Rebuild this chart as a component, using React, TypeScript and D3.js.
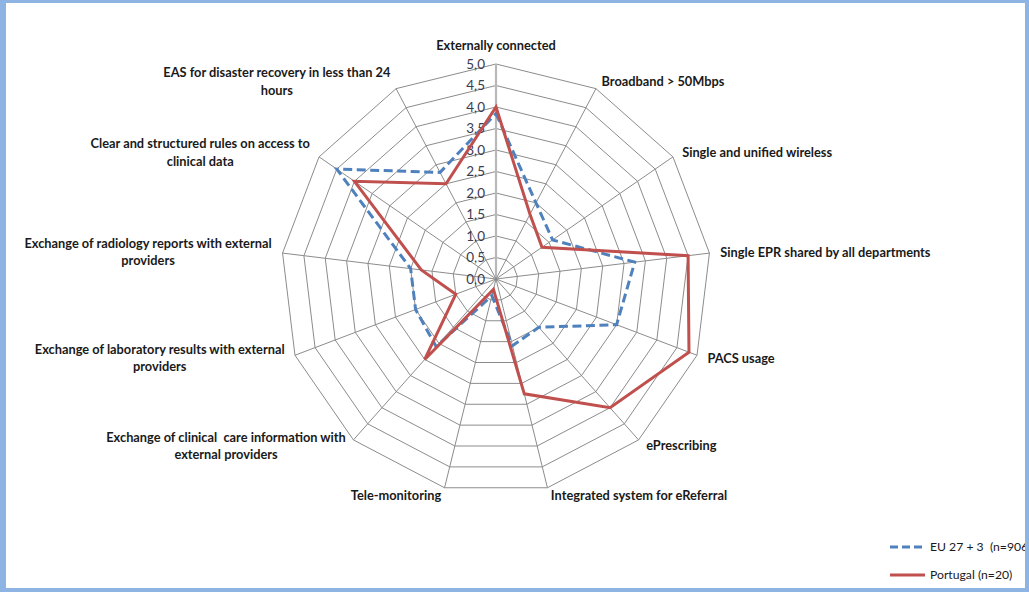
import React, { useEffect, useRef } from "react";
import * as d3 from "d3";

const categories: string[][] = [
  ["Externally connected"],
  ["Broadband > 50Mbps"],
  ["Single and unified wireless"],
  ["Single EPR shared by all departments"],
  ["PACS usage"],
  ["ePrescribing"],
  ["Integrated system for eReferral"],
  ["Tele-monitoring"],
  ["Exchange of clinical  care information with", "external providers"],
  ["Exchange of laboratory results with external", "providers"],
  ["Exchange of radiology reports with external", "providers"],
  ["Clear and structured rules on access to", "clinical data"],
  ["EAS for disaster recovery in less than 24", "hours"],
];

const euValues = [3.85, 2.0, 1.6, 3.25, 3.0, 1.5, 1.6, 0.4, 2.1, 2.0, 2.0, 4.5, 2.8];
const ptValues = [4.0, 1.7, 1.3, 4.5, 4.8, 4.0, 2.75, 0.25, 2.5, 1.0, 1.75, 4.0, 2.5];

const tickValues = [0, 0.5, 1, 1.5, 2, 2.5, 3, 3.5, 4, 4.5, 5];
const tickLabels = ["0,0", "0,5", "1,0", "1,5", "2,0", "2,5", "3,0", "3,5", "4,0", "4,5", "5,0"];

const seriesNames = ["EU 27 + 3  (n=906)", "Portugal (n=20)"];
const seriesColors = ["#4F81BD", "#C0504D"];

const W = 1029;
const H = 592;

export default function App() {
  const ref = useRef<SVGSVGElement | null>(null);

  useEffect(() => {
    const svg = d3.select(ref.current);
    svg.selectAll("*").remove();

    const cx = 496;
    const cy = 279;
    const R = 215;
    const n = categories.length;
    const r = d3.scaleLinear().domain([0, 5]).range([0, R]);
    const ang = (i: number) => (i * 2 * Math.PI) / n;
    const fontFam = "Lato, 'Open Sans', sans-serif";

    svg.append("rect").attr("width", W).attr("height", H).attr("fill", "#ffffff");

    const g = svg.append("g").attr("transform", `translate(${cx},${cy})`);

    // grid polygons
    const ring = d3
      .lineRadial<number>()
      .angle((_d, i) => ang(i))
      .radius((d) => r(d))
      .curve(d3.curveLinearClosed);

    tickValues.filter((t) => t > 0).forEach((t) => {
      g.append("path")
        .attr("d", ring(categories.map(() => t)) as string)
        .attr("fill", "none")
        .attr("stroke", "#8c8c8c")
        .attr("stroke-width", 1);
    });

    // spokes
    categories.forEach((_c, i) => {
      const a = ang(i);
      g.append("line")
        .attr("x1", 0)
        .attr("y1", 0)
        .attr("x2", r(5) * Math.sin(a))
        .attr("y2", -r(5) * Math.cos(a))
        .attr("stroke", i === 0 ? "#b8b8b8" : "#8c8c8c")
        .attr("stroke-width", i === 0 ? 2.2 : 1);
    });

    // tick labels
    tickValues.forEach((t, k) => {
      g.append("text")
        .attr("x", -11)
        .attr("y", -r(t))
        .attr("dy", "0.35em")
        .attr("text-anchor", "end")
        .attr("font-family", fontFam)
        .attr("font-size", 13.5)
        .attr("fill", "#3b3b4f")
        .text(tickLabels[k]);
    });

    // series
    const series = [euValues, ptValues];
    series.forEach((vals, s) => {
      g.append("path")
        .attr("d", ring(vals) as string)
        .attr("fill", "none")
        .attr("stroke", seriesColors[s])
        .attr("stroke-width", 3)
        .attr("stroke-linejoin", "miter")
        .attr("stroke-dasharray", s === 0 ? "9,4.5" : null);
    });

    // category labels
    const lineH = 17.5;
    categories.forEach((lines, i) => {
      const a = ang(i);
      const sa = Math.sin(a);
      const ca = Math.cos(a);
      const vx = cx + R * sa;
      const vy = cy - R * ca;
      const tg = svg.append("g");
      const texts = lines.map((ln) =>
        tg
          .append("text")
          .attr("font-family", fontFam)
          .attr("font-weight", "bold")
          .attr("font-size", 12.8)
          .attr("fill", "#1a1a1a")
          .style("white-space", "pre")
          .text(ln)
      );
      const widths = texts.map((t) => (t.node() as SVGTextElement).getComputedTextLength());
      const maxW = d3.max(widths) || 0;
      const yc = Math.abs(sa) < 0.05 ? vy - 18 : vy - 8 * ca;
      const y0 = yc - ((lines.length - 1) * lineH) / 2;
      let xCenter: number;
      if (Math.abs(sa) < 0.05) xCenter = vx;
      else if (sa > 0) xCenter = vx + 10 * sa + 1 + maxW / 2;
      else xCenter = vx + 10 * sa - 1 - maxW / 2;
      texts.forEach((t, k) => {
        t.attr("x", xCenter)
          .attr("y", y0 + k * lineH)
          .attr("dy", "0.35em")
          .attr("text-anchor", "middle");
      });
    });

    // legend
    const legY = [547, 575];
    seriesNames.forEach((name, s) => {
      svg
        .append("line")
        .attr("x1", 890)
        .attr("x2", 925)
        .attr("y1", legY[s])
        .attr("y2", legY[s])
        .attr("stroke", seriesColors[s])
        .attr("stroke-width", 3)
        .attr("stroke-dasharray", s === 0 ? "8,4" : null);
      svg
        .append("text")
        .attr("x", 930)
        .attr("y", legY[s])
        .attr("dy", "0.35em")
        .attr("font-family", fontFam)
        .attr("font-size", 12.2)
        .attr("fill", "#1a1a1a")
        .style("white-space", "pre")
        .text(name);
    });

    // frame
    const frame = "#8DB4E2";
    svg.append("rect").attr("x", 0).attr("y", 0).attr("width", W).attr("height", 3).attr("fill", frame);
    svg.append("rect").attr("x", 0).attr("y", 0).attr("width", 6).attr("height", H).attr("fill", frame);
    svg.append("rect").attr("x", W - 4).attr("y", 0).attr("width", 4).attr("height", H).attr("fill", frame);
    svg.append("rect").attr("x", 0).attr("y", H - 4).attr("width", W).attr("height", 4).attr("fill", frame);
  }, []);

  return (
    <svg
      ref={ref}
      width={W}
      height={H}
      style={{ position: "absolute", left: 0, top: 0, display: "block" }}
    />
  );
}
